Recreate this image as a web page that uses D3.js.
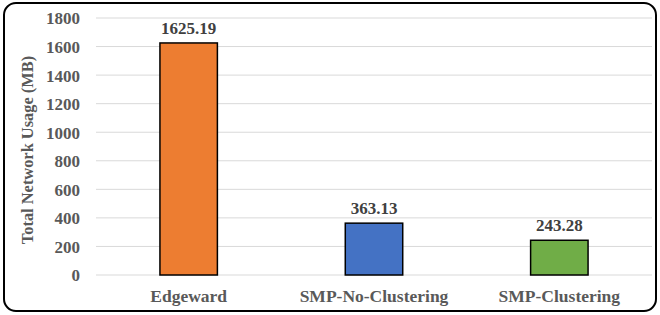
<!DOCTYPE html>
<html>
<head>
<meta charset="utf-8">
<script src="https://cdn.jsdelivr.net/npm/d3@7"></script>
<style>
  body { margin: 0; background: #fff; }
  text { font-family: "Liberation Serif", "Times New Roman", serif; font-weight: bold; fill: #595959; }
</style>
</head>
<body>
<script>
var categories = ["Edgeward", "SMP-No-Clustering", "SMP-Clustering"];
var values = [1625.19, 363.13, 243.28];
var colors = ["#ED7D31", "#4472C4", "#70AD47"];
var ticks = [0, 200, 400, 600, 800, 1000, 1200, 1400, 1600, 1800];

var width = 660, height = 315;
var plotLeft = 96, plotRight = 652, plotTop = 18, plotBottom = 275;

var svg = d3.select("body").append("svg")
    .attr("width", width)
    .attr("height", height);

// outer frame
svg.append("rect")
    .attr("x", 4).attr("y", 3)
    .attr("width", 652).attr("height", 308)
    .attr("rx", 12).attr("ry", 12)
    .attr("fill", "#fff")
    .attr("stroke", "#000")
    .attr("stroke-width", 2);

var x = d3.scaleBand()
    .domain(categories)
    .range([plotLeft, plotRight])
    .paddingInner(0.69)
    .paddingOuter(0.345);

var y = d3.scaleLinear()
    .domain([0, 1800])
    .range([plotBottom, plotTop]);

// gridlines
svg.selectAll(".grid")
    .data(ticks)
    .enter().append("line")
    .attr("class", "grid")
    .attr("x1", plotLeft).attr("x2", plotRight)
    .attr("y1", function(d) { return y(d); })
    .attr("y2", function(d) { return y(d); })
    .attr("stroke", "#d9d9d9")
    .attr("stroke-width", 1);

// y axis labels
var yAxis = d3.axisLeft(y).tickValues(ticks).tickFormat(d3.format("d")).tickSize(0).tickPadding(0);
var gy = svg.append("g")
    .attr("transform", "translate(80,0)")
    .call(yAxis);
gy.select(".domain").remove();
gy.selectAll("text")
    .attr("font-family", null)
    .style("font-size", "17px")
    .attr("dy", "0.35em");

// x axis labels
var xAxis = d3.axisBottom(x).tickSize(0).tickPadding(0);
var gx = svg.append("g")
    .attr("transform", "translate(0,302)")
    .call(xAxis);
gx.select(".domain").remove();
gx.selectAll("text")
    .attr("font-family", null)
    .attr("dy", 0)
    .style("font-size", "17.5px");

// bars
svg.selectAll(".bar")
    .data(values)
    .enter().append("rect")
    .attr("class", "bar")
    .attr("x", function(d, i) { return x(categories[i]); })
    .attr("y", function(d) { return y(d); })
    .attr("width", x.bandwidth())
    .attr("height", function(d) { return y(0) - y(d); })
    .attr("fill", function(d, i) { return colors[i]; })
    .attr("stroke", "#000")
    .attr("stroke-width", 1.5);

// value labels
svg.selectAll(".val")
    .data(values)
    .enter().append("text")
    .attr("class", "val")
    .attr("x", function(d, i) { return x(categories[i]) + x.bandwidth() / 2; })
    .attr("y", function(d) { return y(d) - 9; })
    .attr("text-anchor", "middle")
    .style("font-size", "17px")
    .style("fill", "#404040")
    .text(function(d) { return d.toFixed(2); });

// y title
svg.append("text")
    .attr("transform", "translate(33,150) rotate(-90)")
    .attr("text-anchor", "middle")
    .style("font-size", "16.4px")
    .text("Total Network Usage (MB)");
</script>
</body>
</html>
